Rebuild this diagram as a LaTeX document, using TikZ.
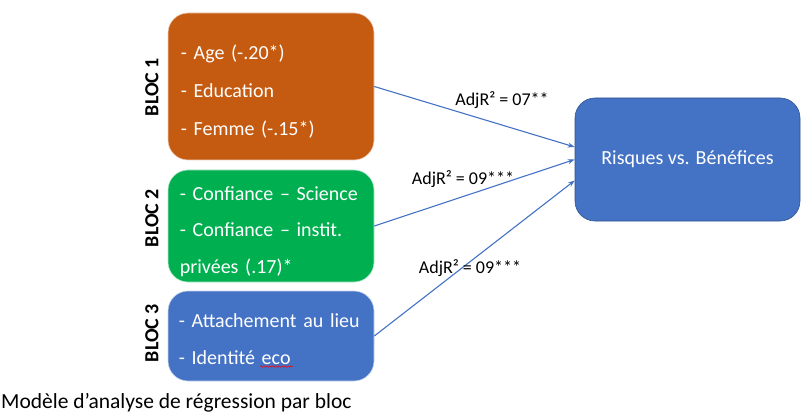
\documentclass[tikz,border=0pt]{standalone}
\usepackage{fontspec}
\setmainfont{Carlito}
\usetikzlibrary{arrows.meta,decorations.pathmorphing}
\definecolor{orangebox}{HTML}{C55A11}
\definecolor{greenbox}{HTML}{00B050}
\definecolor{bluebox}{HTML}{4472C4}
\definecolor{blueline}{HTML}{2F528F}
\tikzset{
  bloc/.style={rounded corners=20pt, minimum width=206pt, draw=white!70!#1, line width=0.6pt, fill=#1},
  bloctext/.style={text width=195pt, inner sep=0pt, align=left, text=white, anchor=west},
  bloclabel/.style={rotate=90, font=\bfseries\fontsize{20}{22}\selectfont},
  arr/.style={draw=bluebox, line width=1.1pt, -{Stealth[length=7pt,width=5pt]}},
  rlabel/.style={font=\fontsize{18}{20}\selectfont}
}
\begin{document}
\begin{tikzpicture}[x=1pt,y=-1pt]
\useasboundingbox (0,0) rectangle (805,414);
\node[bloc=orangebox, minimum height=147pt] (b1) at (271,86.5) {};
\node[bloc=greenbox, minimum height=112pt] (b2) at (271,226) {};
\node[bloc=bluebox, minimum height=90pt] (b3) at (271,336) {};
\node[bloctext, font=\fontsize{20}{38}\selectfont] (t1) at ([xshift=13pt,yshift=-5pt]b1.west)
  {- Age (-.20*)\\- Education\\- Femme (-.15*)};
\node[bloctext, font=\fontsize{20}{36.5}\selectfont] (t2) at ([xshift=12pt,yshift=-5.5pt]b2.west)
  {- Confiance -- Science\\- Confiance -- instit.\\privées (.17)*};
\node[bloctext, font=\fontsize{20}{37}\selectfont] (t3) at ([xshift=11pt,yshift=-3pt]b3.west)
  {- Attachement au lieu\\- Identité eco};
\node[rounded corners=20pt, minimum width=225pt, minimum height=123pt, fill=bluebox,
  draw=blueline, line width=0.6pt, text=white, font=\fontsize{20}{24}\selectfont] (rb) at (687.5,159.5)
  {Risques vs. Bénéfices};
\node[bloclabel] (l1) at (152,87) {BLOC 1};
\node[bloclabel] (l2) at (152,218) {BLOC 2};
\node[bloclabel] (l3) at (152,333) {BLOC 3};
\draw[arr] (b1.east) -- ([yshift=12.5pt]rb.west);
\draw[arr] (b2.east) -- (rb.west);
\draw[arr] (b3.east) -- ([yshift=-21pt]rb.west);
\node[rlabel] (r1) at (502,100) {AdjR² = 07**};
\node[rlabel] (r2) at (463,179) {AdjR² = 09***};
\node[rlabel] (r3) at (470,268) {AdjR² = 09***};
\node[anchor=base west, inner sep=0pt, font=\fontsize{21.5}{24}\selectfont] (cap) at (1,408)
  {Modèle d’analyse de régression par bloc};
\coordinate (s1) at (260,366.5);
\coordinate (s2) at (293,366.5);
\draw[red, line width=0.5pt, decorate, decoration={snake, amplitude=0.8pt, segment length=3pt}] (s1) -- (s2);
\end{tikzpicture}
\end{document}
